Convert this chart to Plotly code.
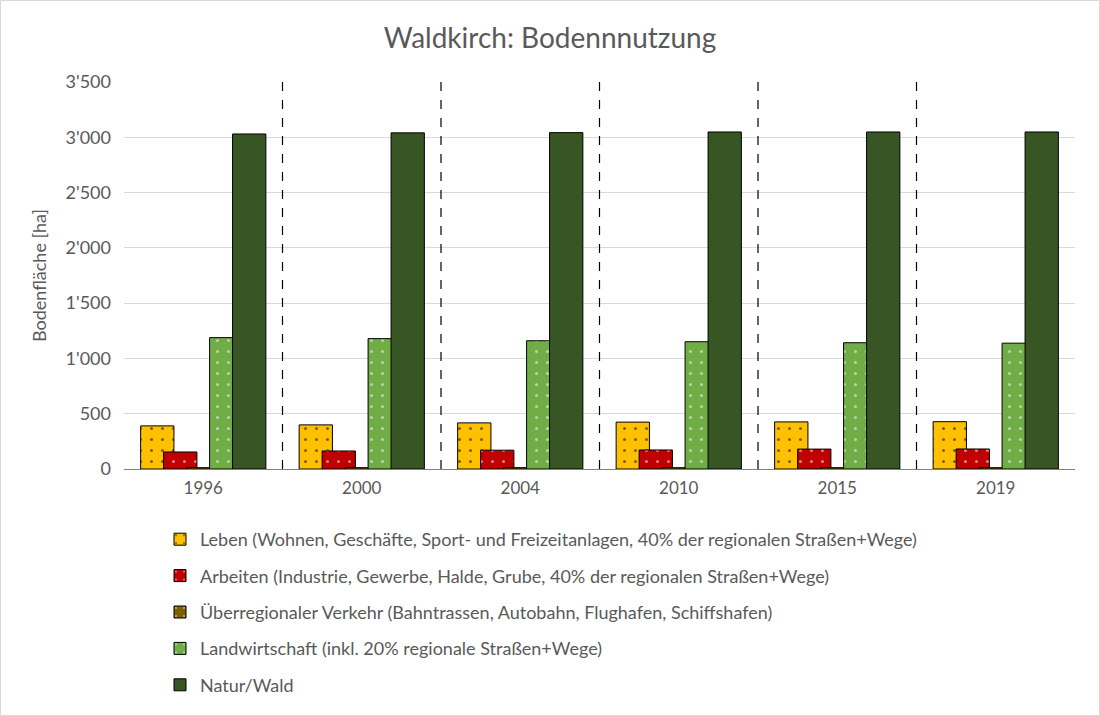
import plotly.graph_objects as go

years = ["1996", "2000", "2004", "2010", "2015", "2019"]
series_names = [
    "Leben (Wohnen, Geschäfte, Sport- und Freizeitanlagen, 40% der regionalen Straßen+Wege)",
    "Arbeiten (Industrie, Gewerbe, Halde, Grube, 40% der regionalen Straßen+Wege)",
    "Überregionaler Verkehr (Bahntrassen, Autobahn, Flughafen, Schiffshafen)",
    "Landwirtschaft (inkl. 20% regionale Straßen+Wege)",
    "Natur/Wald",
]
leben = [390, 399, 417, 424, 426, 428]
arbeiten = [154, 163, 170, 172, 180, 181]
verkehr = [12, 12, 12, 12, 12, 12]
landwirtschaft = [1188, 1179, 1160, 1151, 1142, 1138]
natur = [3030, 3040, 3042, 3048, 3048, 3048]
values = [leben, arbeiten, verkehr, landwirtschaft, natur]

colors = ["#FFC000", "#C00000", "#7F6000", "#70AD47", "#375623"]
dotcolors = ["#000000", "#FFFFFF", "#FFFFFF", "#FFFFFF", None]

bar_w = 0.21
step = 0.145
fig = go.Figure()
for i, (name, vals) in enumerate(zip(series_names, values)):
    pattern = dict(shape=".", fgcolor=dotcolors[i], size=11, solidity=0.06) if dotcolors[i] else dict(shape="")
    fig.add_trace(go.Bar(
        x=years, y=vals, name=name,
        width=bar_w, offset=(i - 2) * step - bar_w / 2,
        marker=dict(color=colors[i], line=dict(color="#000000", width=1), pattern=pattern),
        legendgroup=str(i),
    ))

L, R, T, B = 124, 25, 82, 247
pw, ph = 1100 - L - R, 716 - T - B
shapes = []
for k in range(len(years) - 1):
    shapes.append(dict(type="line", xref="x", yref="y", x0=k + 0.5, x1=k + 0.5, y0=0, y1=3500,
                       line=dict(color="#000000", width=1.2, dash="dash")))
shapes.append(dict(type="rect", xref="paper", yref="paper",
                   x0=-(L - 0.5) / pw, x1=(pw + R - 0.5) / pw,
                   y0=-(B - 0.5) / ph, y1=(ph + T - 0.5) / ph,
                   line=dict(color="#D9D9D9", width=1), layer="below"))

font_family = "Lato, 'Open Sans', sans-serif"
fig.update_layout(
    width=1100, height=716,
    barmode="overlay",
    separators=".'",
    paper_bgcolor="white", plot_bgcolor="white",
    margin=dict(l=L, r=R, t=T, b=B, autoexpand=False),
    title=dict(text="Waldkirch: Bodennnutzung", x=0.5, xanchor="center", y=1 - 38 / 716, yanchor="middle",
               font=dict(family=font_family, size=28, color="#595959")),
    font=dict(family=font_family, size=18, color="#595959"),
    xaxis=dict(type="category", showline=True, linecolor="#808080", linewidth=1, ticks="",
               tickfont=dict(size=17, color="#595959"), range=[-0.5, 5.5], ticklabelstandoff=4),
    yaxis=dict(range=[0, 3500], dtick=500, tickformat=",", showgrid=True, gridcolor="#D9D9D9",
               zeroline=False, tickfont=dict(size=18, color="#595959"), ticklabelstandoff=12,
               title=dict(text="Bodenfläche [ha]", font=dict(size=18, color="#595959"), standoff=14)),
    legend=dict(orientation="v", x=(160 - L) / pw, xanchor="left", y=-(52) / ph, yanchor="top",
                font=dict(size=18, color="#595959"), tracegroupgap=10, traceorder="grouped"),
    shapes=shapes,
    showlegend=True,
)
fig.write_html("out.html", post_script="document.body.style.margin='0px';",
               config={"displayModeBar": False})
